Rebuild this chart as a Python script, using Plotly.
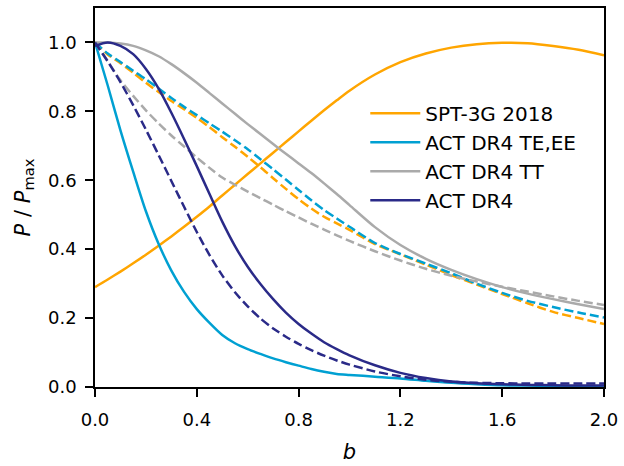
import plotly.graph_objects as go

b = [0, 0.05, 0.1, 0.15, 0.2, 0.25, 0.3, 0.35, 0.4, 0.45, 0.5, 0.55, 0.6, 0.65, 0.7, 0.75,
     0.8, 0.85, 0.9, 0.95, 1.0, 1.1, 1.2, 1.3, 1.4, 1.5, 1.6, 1.7, 1.8, 1.9, 2.0]

spt_solid = [0.29, 0.312, 0.335, 0.359, 0.384, 0.41, 0.437, 0.465, 0.494, 0.524, 0.556, 0.587,
             0.618, 0.649, 0.68, 0.711, 0.742, 0.773, 0.803, 0.832, 0.86, 0.907, 0.943, 0.968,
             0.985, 0.995, 0.999, 0.998, 0.99, 0.979, 0.963]
spt_dashed = [1.0, 0.965, 0.94, 0.912, 0.883, 0.856, 0.83, 0.806, 0.781, 0.754, 0.725, 0.697,
              0.668, 0.638, 0.606, 0.575, 0.545, 0.518, 0.494, 0.475, 0.456, 0.415, 0.385,
              0.355, 0.325, 0.297, 0.27, 0.243, 0.218, 0.2, 0.183]
teee_solid = [1.0, 0.875, 0.745, 0.625, 0.51, 0.415, 0.338, 0.276, 0.226, 0.186, 0.151, 0.127,
              0.11, 0.096, 0.083, 0.072, 0.062, 0.052, 0.044, 0.038, 0.035, 0.03, 0.025, 0.018,
              0.012, 0.008, 0.005, 0.004, 0.003, 0.002, 0.002]
teee_dashed = [1.0, 0.968, 0.943, 0.918, 0.893, 0.866, 0.839, 0.813, 0.789, 0.765, 0.741, 0.716,
               0.69, 0.661, 0.632, 0.602, 0.572, 0.542, 0.514, 0.489, 0.465, 0.418, 0.386,
               0.358, 0.33, 0.3, 0.273, 0.25, 0.232, 0.216, 0.202]
tt_solid = [1.0, 1.0, 0.997, 0.99, 0.977, 0.96, 0.937, 0.911, 0.883, 0.853, 0.823, 0.793, 0.763,
            0.734, 0.705, 0.677, 0.649, 0.621, 0.591, 0.56, 0.528, 0.464, 0.412, 0.372, 0.34,
            0.313, 0.29, 0.271, 0.255, 0.24, 0.226]
tt_dashed = [1.0, 0.945, 0.89, 0.845, 0.803, 0.765, 0.73, 0.698, 0.666, 0.636, 0.608, 0.587,
             0.567, 0.548, 0.529, 0.51, 0.492, 0.474, 0.457, 0.44, 0.424, 0.394, 0.367, 0.343,
             0.323, 0.306, 0.291, 0.277, 0.263, 0.25, 0.238]
dr4_solid = [0.99, 1.0, 0.99, 0.966, 0.923, 0.866, 0.796, 0.72, 0.641, 0.56, 0.48, 0.409, 0.349,
             0.299, 0.255, 0.216, 0.183, 0.155, 0.13, 0.11, 0.092, 0.063, 0.041, 0.026, 0.016,
             0.011, 0.008, 0.006, 0.005, 0.004, 0.004]
dr4_dashed = [1.0, 0.945, 0.885, 0.818, 0.747, 0.673, 0.598, 0.523, 0.45, 0.383, 0.324, 0.275,
              0.234, 0.199, 0.17, 0.146, 0.125, 0.107, 0.091, 0.077, 0.065, 0.045, 0.031, 0.021,
              0.015, 0.012, 0.011, 0.01, 0.01, 0.01, 0.01]

names = ["SPT-3G 2018", "ACT DR4 TE,EE", "ACT DR4 TT", "ACT DR4"]
colors = ["#FFA500", "#00A0D2", "#AAAAAA", "#2A2A88"]
solids = [spt_solid, teee_solid, tt_solid, dr4_solid]
dashes = [spt_dashed, teee_dashed, tt_dashed, dr4_dashed]

xticks = [0.0, 0.4, 0.8, 1.2, 1.6, 2.0]
yticks = [0.0, 0.2, 0.4, 0.6, 0.8, 1.0]

fig = go.Figure()
for name, col, ys, yd in zip(names, colors, solids, dashes):
    fig.add_trace(go.Scatter(x=b, y=ys, mode="lines", name=name,
                             line=dict(color=col, width=2.5, shape="spline", smoothing=0.8)))
    fig.add_trace(go.Scatter(x=b, y=yd, mode="lines", showlegend=False,
                             line=dict(color=col, width=2.5, dash="9px,4px",
                                       shape="spline", smoothing=0.8)))

font = "DejaVu Sans"
fig.update_layout(
    width=624, height=466,
    margin=dict(l=95, r=14, t=6, b=77),
    paper_bgcolor="white", plot_bgcolor="white",
    font=dict(family=font, color="black", size=18),
    legend=dict(x=0.531, xanchor="left", y=0.774, yanchor="top",
                bgcolor="rgba(0,0,0,0)", font=dict(size=20, family=font),
                tracegroupgap=0, itemwidth=50),
    xaxis=dict(range=[0, 2.0], tickvals=xticks, ticktext=[f"{v:.1f}" for v in xticks],
               showgrid=False, zeroline=False, showline=True, linecolor="black",
               linewidth=1.5, mirror=True, ticks="outside", ticklen=8, tickwidth=1.5,
               tickcolor="black", tickfont=dict(size=18), ticklabelstandoff=8,
               ticklabeloverflow="allow",
               title=dict(text="<i>b</i>", font=dict(size=21), standoff=15)),
    yaxis=dict(range=[0, 1.1], tickvals=yticks, ticktext=[f"{v:.1f}" for v in yticks],
               showgrid=False, zeroline=False, showline=True, linecolor="black",
               linewidth=1.5, mirror=True, ticks="outside", ticklen=8, tickwidth=1.5,
               tickcolor="black", tickfont=dict(size=18), ticklabelstandoff=5,
               title=dict(text="<i>P</i> / <i>P</i><sub>max</sub>", font=dict(size=21),
                          standoff=12)),
)

fig.write_html("out.html")
